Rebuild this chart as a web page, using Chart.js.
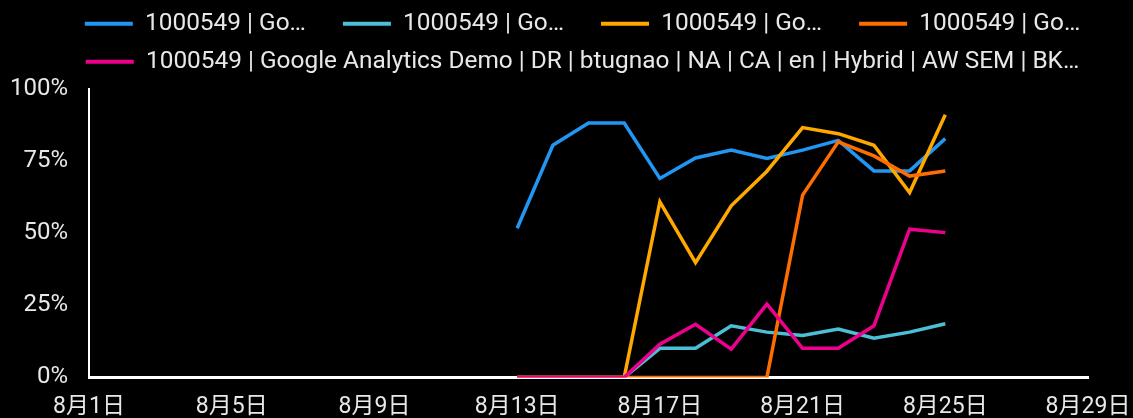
<!DOCTYPE html>
<html>
<head>
<meta charset="utf-8">
<script src="https://cdn.jsdelivr.net/npm/chart.js@4.4.1/dist/chart.umd.min.js"></script>
<style>
  html, body { margin: 0; padding: 0; background: #000; }
  #wrap { position: relative; width: 1133px; height: 418px; background: #000; }
</style>
</head>
<body>
<div id="wrap"><canvas id="c"></canvas></div>
<script>
const categories = ['8月1日','8月2日','8月3日','8月4日','8月5日','8月6日','8月7日','8月8日','8月9日','8月10日',
  '8月11日','8月12日','8月13日','8月14日','8月15日','8月16日','8月17日','8月18日','8月19日','8月20日',
  '8月21日','8月22日','8月23日','8月24日','8月25日','8月26日','8月27日','8月28日','8月29日'];

const seriesLabels = [
  '1000549 | Go…',
  '1000549 | Go…',
  '1000549 | Go…',
  '1000549 | Go…',
  '1000549 | Google Analytics Demo | DR | btugnao | NA | CA | en | Hybrid | AW SEM | BK…'
];
const seriesColors = ['#2196f3', '#4cbfd6', '#ffa800', '#ff6d00', '#ec008c'];

const N = null;
const blueValues   = [N,N,N,N,N,N,N,N,N,N,N,N, 51.7, 80.5, 88.2, 88.2, 69.0, 76.1, 78.8, 75.9, 78.8, 82.2, 71.6, 71.6, 82.8, N,N,N,N];
const tealValues   = [N,N,N,N,N,N,N,N,N,N,N,N, 0, 0, 0, 0, 10.1, 10.1, 17.9, 15.7, 14.5, 16.8, 13.6, 15.7, 18.6, N,N,N,N];
const amberValues  = [N,N,N,N,N,N,N,N,N,N,N,N, 0, 0, 0, 0, 60.9, 39.8, 59.5, 71.5, 86.6, 84.5, 80.5, 64.1, 91.1, N,N,N,N];
const orangeValues = [N,N,N,N,N,N,N,N,N,N,N,N, 0, 0, 0, 0, 0, 0, 0, 0, 63.2, 81.7, 76.8, 69.8, 71.6, N,N,N,N];
const pinkValues   = [N,N,N,N,N,N,N,N,N,N,N,N, 0, 0, 0, 0, 11.5, 18.4, 9.8, 25.4, 10.1, 10.1, 17.9, 51.4, 50.2, N,N,N,N];

const yTicks = [0, 25, 50, 75, 100];

const allValues = [blueValues, tealValues, amberValues, orangeValues, pinkValues];
const FONT = "Roboto, 'Noto Sans CJK SC', sans-serif";
const TEXT = '#e8e8e8';

const datasets = allValues.map((vals, i) => ({
  label: seriesLabels[i],
  data: vals,
  borderColor: seriesColors[i],
  backgroundColor: seriesColors[i],
  borderWidth: 3.5,
  pointRadius: 0,
  pointHoverRadius: 0,
  tension: 0,
  fill: false,
  spanGaps: false,
  order: allValues.length - 1 - i
}));

const SPACER = ' \u2002\u2009';
const LEGEND_DX = 21.5;
const LEGEND_DY = -5;

const legendShift = {
  id: 'legendShift',
  afterLayout(chart) {
    const lg = chart.legend;
    if (!lg) return;
    lg.left += LEGEND_DX; lg.right += LEGEND_DX;
    lg.top += LEGEND_DY; lg.bottom += LEGEND_DY;
  }
};

new Chart(document.getElementById('c'), {
  type: 'line',
  data: { labels: categories, datasets: datasets },
  plugins: [legendShift],
  options: {
    responsive: true,
    maintainAspectRatio: false,
    animation: false,
    layout: { padding: { top: 3, right: 0, left: -11, bottom: -19 } },
    plugins: {
      tooltip: { enabled: false },
      legend: {
        position: 'top',
        align: 'center',
        labels: {
          color: TEXT,
          font: { family: FONT, size: 24.4 },
          boxWidth: 48,
          boxHeight: 4,
          padding: 13.6,
          generateLabels: (chart) => chart.data.datasets.map((ds, i) => ({
            text: i < 3 ? ds.label + SPACER : ds.label,
            fillStyle: ds.borderColor,
            strokeStyle: ds.borderColor,
            lineWidth: 0,
            fontColor: TEXT,
            hidden: false,
            datasetIndex: i
          }))
        }
      }
    },
    scales: {
      x: {
        type: 'category',
        offset: false,
        afterFit: (scale) => { scale.paddingRight = 45; },
        grid: { display: false, drawTicks: false },
        border: { display: true, color: '#ffffff', width: 3 },
        ticks: {
          color: TEXT,
          font: { family: FONT, size: 23 },
          autoSkip: false,
          maxRotation: 0,
          minRotation: 0,
          padding: 16,
          callback: function(value, index) { return index % 4 === 0 ? categories[index] : ''; }
        }
      },
      y: {
        min: 0,
        max: 100,
        afterBuildTicks: (axis) => { axis.ticks = yTicks.map(v => ({ value: v })); },
        grid: { display: false, drawTicks: false },
        border: { display: true, color: '#ffffff', width: 2 },
        ticks: {
          color: TEXT,
          font: { family: FONT, size: 24 },
          padding: 21,
          callback: (v) => v + '%'
        }
      }
    }
  }
});
</script>
</body>
</html>
